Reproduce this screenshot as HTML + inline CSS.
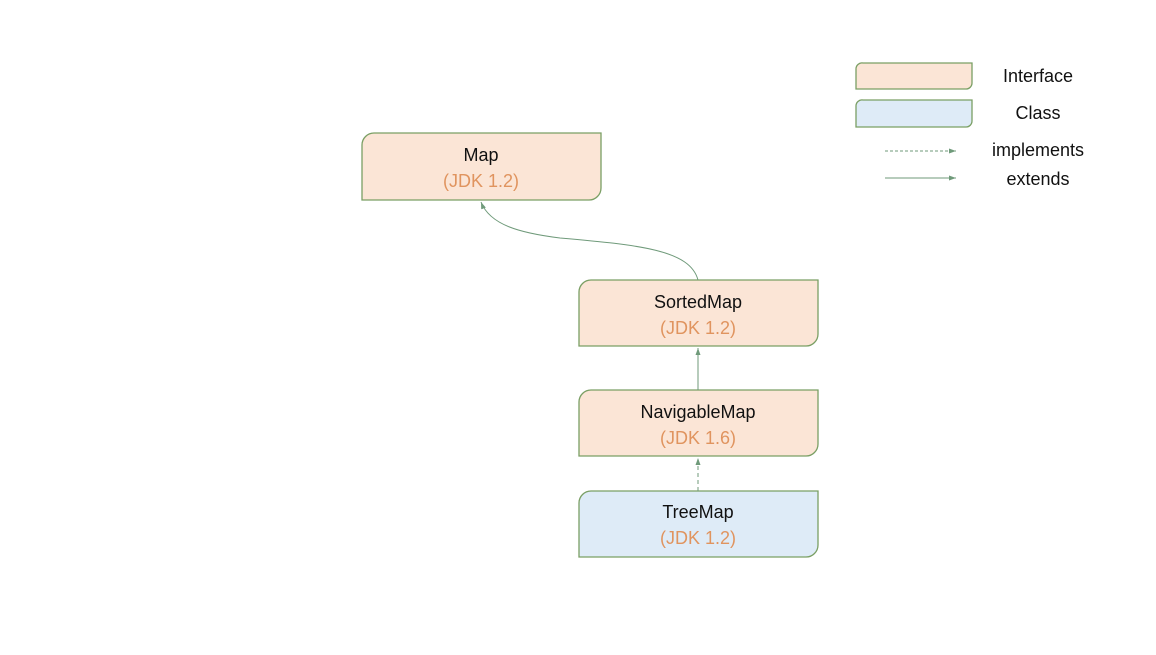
<!DOCTYPE html>
<html><head><style>body{margin:0;background:#fff}</style></head><body>
<svg width="1156" height="650" xmlns="http://www.w3.org/2000/svg" font-family="Liberation Sans, sans-serif">
<defs>
<marker id="a" markerWidth="8" markerHeight="8" refX="7" refY="4" orient="auto"><path d="M0,1.5 L7,4 L0,6.5 Z" fill="#6f9a7a"/></marker>
</defs>
<g stroke="#7a9f64" stroke-width="1.3">
<path d="M374,133 H601 V188 A12,12 0 0 1 589,200 H362 V145 A12,12 0 0 1 374,133 Z" fill="#fbe5d6"/>
<path d="M591,280 H818 V334 A12,12 0 0 1 806,346 H579 V292 A12,12 0 0 1 591,280 Z" fill="#fbe5d6"/>
<path d="M591,390 H818 V444 A12,12 0 0 1 806,456 H579 V402 A12,12 0 0 1 591,390 Z" fill="#fbe5d6"/>
<path d="M591,491 H818 V545 A12,12 0 0 1 806,557 H579 V503 A12,12 0 0 1 591,491 Z" fill="#deebf7"/>
<path d="M863,63 H972 V83 A6,6 0 0 1 966,89 H856 V69 A6,6 0 0 1 863,63 Z" fill="#fbe5d6"/>
<path d="M863,100 H972 V121 A6,6 0 0 1 966,127 H856 V106 A6,6 0 0 1 863,100 Z" fill="#deebf7"/>
</g>
<g stroke="#6f9a7a" stroke-width="1" fill="none">
<path d="M698,280 C690,250 640,245 560,238 C520,233 490,225 481,202" marker-end="url(#a)"/>
<line x1="698" y1="390" x2="698" y2="348" marker-end="url(#a)"/>
<line x1="698" y1="491" x2="698" y2="458" stroke-dasharray="4,3" marker-end="url(#a)"/>
<line x1="885" y1="151" x2="956" y2="151" stroke-dasharray="3,2" marker-end="url(#a)"/>
<line x1="885" y1="178" x2="956" y2="178" marker-end="url(#a)"/>
</g>
<g font-size="18" text-anchor="middle" fill="#111">
<text x="481" y="161">Map</text>
<text x="698" y="308">SortedMap</text>
<text x="698" y="418">NavigableMap</text>
<text x="698" y="518">TreeMap</text>
</g>
<g font-size="18" text-anchor="middle" fill="#e0945f">
<text x="481" y="187">(JDK 1.2)</text>
<text x="698" y="334">(JDK 1.2)</text>
<text x="698" y="444">(JDK 1.6)</text>
<text x="698" y="544">(JDK 1.2)</text>
</g>
<g font-size="18" text-anchor="middle" fill="#111">
<text x="1038" y="82">Interface</text>
<text x="1038" y="119">Class</text>
<text x="1038" y="156">implements</text>
<text x="1038" y="185">extends</text>
</g>
</svg>
</body></html>
